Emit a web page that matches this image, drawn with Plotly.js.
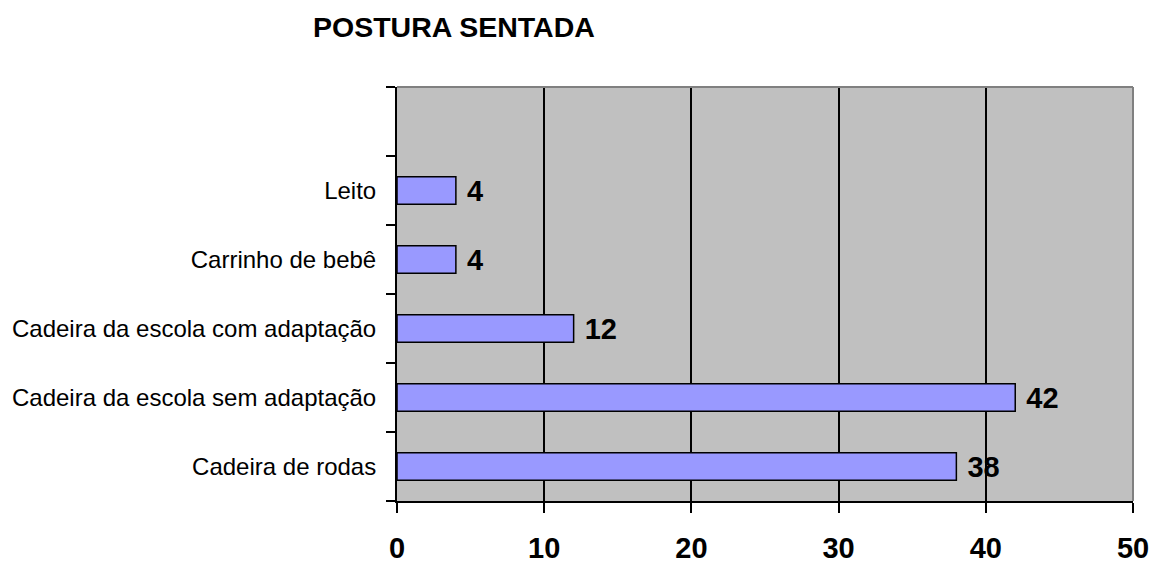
<!DOCTYPE html>
<html>
<head>
<meta charset="utf-8">
<script src="https://cdn.plot.ly/plotly-3.0.1.min.js"></script>
<style>
  html, body { margin: 0; padding: 0; background: #fff; }
  #chart { width: 1156px; height: 565px; }
</style>
</head>
<body>
<div id="chart"></div>
<script>
// categories bottom to top; the top slot is left empty as in the original
const categories = ['Cadeira de rodas', 'Cadeira da escola sem adaptação', 'Cadeira da escola com adaptação', 'Carrinho de bebê', 'Leito', ' '];
const values = [38, 42, 12, 4, 4, null];
const xTicks = [0, 10, 20, 30, 40, 50];

const trace = {
    type: 'bar',
    orientation: 'h',
    x: values,
    y: categories,
    width: 0.4,
    marker: {
        color: '#9999FF',
        line: { color: '#000', width: 1.5 }
    },
    // leading space gives the gap between bar end and label
    text: values.map(v => v === null ? '' : ' ' + v),
    textposition: 'outside',
    constraintext: 'none',
    cliponaxis: false,
    textfont: { family: 'Arial, Liberation Sans, sans-serif', size: 29, color: '#000', weight: 'bold' },
    hoverinfo: 'x+y'
};

const layout = {
    width: 1156,
    height: 565,
    paper_bgcolor: '#fff',
    plot_bgcolor: '#C0C0C0',
    margin: { l: 397, r: 23, t: 87, b: 64 },
    showlegend: false,
    title: {
        text: '<b>POSTURA SENTADA</b>',
        font: { family: 'Arial, Liberation Sans, sans-serif', size: 28.5, color: '#000' },
        xref: 'container',
        x: 313 / 1156,
        xanchor: 'left',
        yref: 'container',
        y: 1 - 27 / 565,
        yanchor: 'middle'
    },
    xaxis: {
        range: [0, 50],
        tickvals: xTicks,
        ticktext: xTicks.map(t => '<b>' + t + '</b>'),
        tickfont: { family: 'Arial, Liberation Sans, sans-serif', size: 29, color: '#000' },
        ticks: 'outside',
        ticklen: 10,
        tickwidth: 2,
        tickcolor: '#000',
        ticklabelstandoff: 10,
        showline: true,
        linecolor: '#000',
        linewidth: 2,
        showgrid: true,
        gridcolor: '#000',
        gridwidth: 2,
        zeroline: false,
        fixedrange: true
    },
    yaxis: {
        type: 'category',
        categoryorder: 'array',
        categoryarray: categories,
        tickson: 'boundaries',
        ticks: 'outside',
        ticklen: 9,
        tickwidth: 2,
        tickcolor: '#000',
        ticklabelstandoff: 14,
        tickfont: { family: 'Arial, Liberation Sans, sans-serif', size: 24, color: '#000' },
        showline: true,
        linecolor: '#000',
        linewidth: 2,
        showgrid: false,
        zeroline: false,
        fixedrange: true
    },
    shapes: [
        // gray top and right border of the plot area
        { type: 'line', xref: 'paper', yref: 'paper', x0: 0, x1: 1, y0: 1, y1: 1, line: { color: '#808080', width: 2 } },
        { type: 'line', xref: 'paper', yref: 'paper', x0: 1, x1: 1, y0: 0, y1: 1, line: { color: '#808080', width: 2 } }
    ]
};

Plotly.newPlot('chart', [trace], layout, { displayModeBar: false, staticPlot: true });
</script>
</body>
</html>
